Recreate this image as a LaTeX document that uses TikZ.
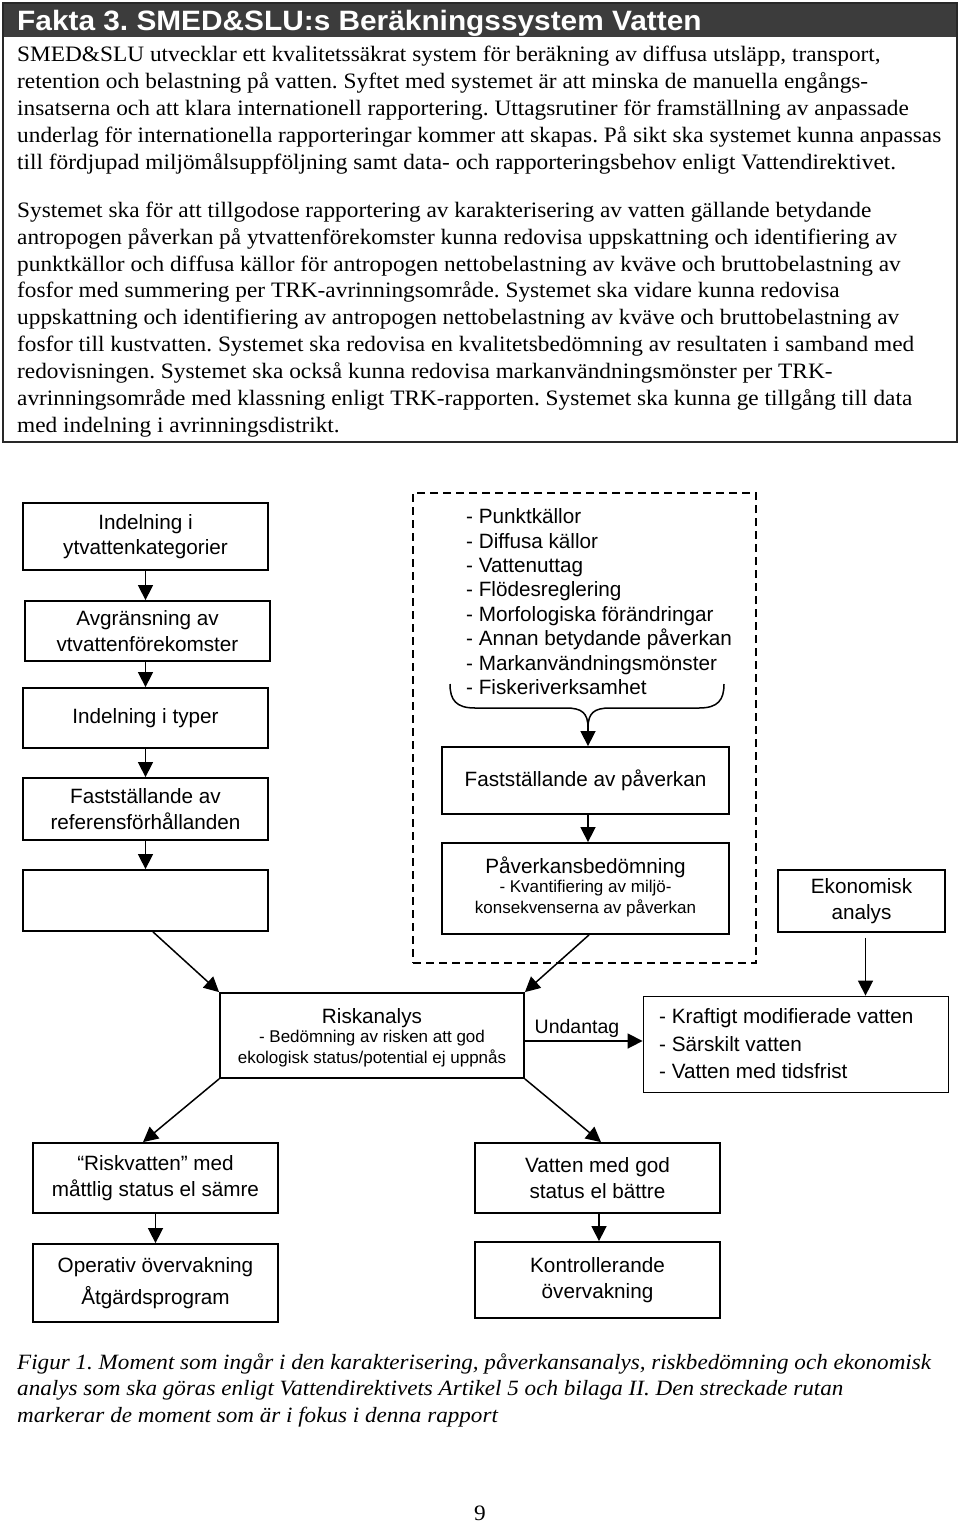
\documentclass[tikz,border=0pt]{standalone}
\usepackage{fontspec}
\setmainfont{Liberation Serif}[FakeStretch=1.06]
\newfontfamily\arialf{Liberation Sans}
\newfontfamily\titlef{Liberation Sans}[FakeStretch=1.065]
\usetikzlibrary{arrows.meta,calc}
\definecolor{barcol}{RGB}{60,60,60}
\definecolor{framecol}{RGB}{40,40,40}
\begin{document}
\frenchspacing
\begin{tikzpicture}[x=1pt,y=-1pt,
  box/.style={draw, line width=1.8pt, inner sep=2pt, align=center, font=\arialf\fontsize{20.7}{25.5}\selectfont},
  big/.style={inner sep=0pt, font=\arialf\fontsize{20.7}{24}\selectfont},
  small/.style={inner sep=0pt, align=center, font=\arialf\fontsize{17}{21.5}\selectfont},
  arr/.style={line width=1.5pt, -{Triangle[width=15pt,length=15pt]}},
  conn/.style={line width=1.5pt},
  bodytext/.style={anchor=north west, inner sep=0pt, align=left},
  ]
\useasboundingbox (0,0) rectangle (960,1525);

% ---- Fact box ----
\fill[barcol] (3,3) rectangle (957,37);
\draw[line width=2pt, framecol] (3,3) rectangle (957,442);
\node[anchor=base west, inner sep=0pt, text=white, font=\titlef\bfseries\fontsize{28}{30}\selectfont] (title) at (17,31) {Fakta 3. SMED\&SLU:s Beräkningssystem Vatten};

\node[bodytext, font=\fontsize{22}{27}\selectfont] (p1) at (17,39) {\rule{0pt}{22pt}SMED\&SLU utvecklar ett kvalitetssäkrat system för beräkning av diffusa utsläpp, transport,\\
retention och belastning på vatten. Syftet med systemet är att minska de manuella engångs-\\
insatserna och att klara internationell rapportering. Uttagsrutiner för framställning av anpassade\\
underlag för internationella rapporteringar kommer att skapas. På sikt ska systemet kunna anpassas\\
till fördjupad miljömålsuppföljning samt data- och rapporteringsbehov enligt Vattendirektivet.};

\node[bodytext, font=\fontsize{22}{26.9}\selectfont] (p2) at (17,195) {\rule{0pt}{22pt}Systemet ska för att tillgodose rapportering av karakterisering av vatten gällande betydande\\
antropogen påverkan på ytvattenförekomster kunna redovisa uppskattning och identifiering av\\
punktkällor och diffusa källor för antropogen nettobelastning av kväve och bruttobelastning av\\
fosfor med summering per TRK-avrinningsområde. Systemet ska vidare kunna redovisa\\
uppskattning och identifiering av antropogen nettobelastning av kväve och bruttobelastning av\\
fosfor till kustvatten. Systemet ska redovisa en kvalitetsbedömning av resultaten i samband med\\
redovisningen. Systemet ska också kunna redovisa markanvändningsmönster per TRK-\\
avrinningsområde med klassning enligt TRK-rapporten. Systemet ska kunna ge tillgång till data\\
med indelning i avrinningsdistrikt.};

% ---- Left column ----
\node[box, minimum width=245pt, minimum height=67pt] (b1) at (145.5,536.5) {Indelning i\\ytvattenkategorier};
\node[box, minimum width=245pt, minimum height=60pt] (b2) at (147.5,631) {Avgränsning av\\vtvattenförekomster};
\node[box, minimum width=245pt, minimum height=60pt] (b3) at (145.5,718) {Indelning i typer};
\node[box, minimum width=245pt, minimum height=62pt] (b4) at (145.5,809) {Fastställande av\\referensförhållanden};
\node[box, minimum width=245pt, minimum height=61pt] (b5) at (145.5,900.5) {};

\draw[arr] (b1.south) -- (b1.south |- b2.north);
\draw[arr] (b2.south -| b3.north) -- (b3.north);
\draw[arr] (b3.south) -- (b4.north);
\draw[arr] (b4.south) -- (b5.north);

% ---- Dashed focus box ----
\node[draw, line width=1.5pt, dash pattern=on 8pt off 5pt, minimum width=343pt, minimum height=470pt, inner sep=0pt] (dbox) at (584.5,728) {};

\node[bodytext, font=\arialf\fontsize{20.7}{24.43}\selectfont] (blist) at (466,503.5) {\rule{0pt}{20pt}- Punktkällor\\- Diffusa källor\\- Vattenuttag\\- Flödesreglering\\- Morfologiska förändringar\\- Annan betydande påverkan\\- Markanvändningsmönster\\- Fiskeriverksamhet};

\coordinate (bl) at (450,684);
\coordinate (br) at (724,684);
\coordinate (bm) at (588,728);
\draw[conn] (bl) .. controls (450,700) and (456,708) .. (475,708) -- (566,708) .. controls (582,708) and (588,713) .. (bm);
\draw[conn] (br) .. controls (724,700) and (718,708) .. (699,708) -- (610,708) .. controls (594,708) and (588,713) .. (bm);

\node[box, minimum width=287pt, minimum height=67pt] (fst) at (585.5,780.5) {Fastställande av påverkan};
\draw[arr] (bm) -- (bm |- fst.north);

\node[box, minimum width=287pt, minimum height=91pt] (pav) at (585.5,888.5) {};
\node[big, anchor=base] (pavt) at (585.5,873) {Påverkansbedömning};
\node[small, anchor=north] (pavs) at (585.5,875) {\rule{0pt}{17pt}- Kvantifiering av miljö-\\konsekvenserna av påverkan};
\draw[arr] ([xshift=2.5pt]fst.south) -- ([xshift=2.5pt]fst.south |- pav.north);

% ---- Economic analysis ----
\node[box, minimum width=167pt, minimum height=62pt] (eko) at (861.5,901) {Ekonomisk\\analys};

% ---- Risk analysis ----
\node[box, minimum width=304pt, minimum height=85pt] (risk) at (372,1035.5) {};
\node[big, anchor=base] (riskt) at (372,1023.5) {Riskanalys};
\node[small, anchor=north] (risks) at (372,1025) {\rule{0pt}{17pt}- Bedömning av risken att god\\ekologisk status/potential ej uppnås};

\node[box, minimum width=305pt, minimum height=96pt] (und) at (796,1044.5) {};
\node[bodytext, font=\arialf\fontsize{20.7}{27.5}\selectfont] (undt) at (659,1003.5) {\rule{0pt}{20pt}- Kraftigt modifierade vatten\\- Särskilt vatten\\- Vatten med tidsfrist};

\draw[arr] ([xshift=7.5pt]b5.south) -- (risk.north west);
\draw[arr] ([xshift=3.5pt]pav.south) -- (risk.north east);
\draw[arr] ([yshift=-5.5pt]risk.east) -- ([yshift=-5.5pt]risk.east -| und.west);
\node[anchor=base, inner sep=0pt, font=\arialf\fontsize{19.5}{22}\selectfont] (lbl) at (577,1033) {Undantag};
\draw[arr] ([xshift=4pt,yshift=-5pt]eko.south) -- ([xshift=4pt]eko.south |- und.north);

% ---- Outcomes ----
\node[box, minimum width=245pt, minimum height=70pt] (rv) at (155.5,1178) {“Riskvatten” med\\måttlig status el sämre};
\node[box, minimum width=245pt, minimum height=78pt] (op) at (155.5,1283) {Operativ övervakning\\[6pt]Åtgärdsprogram};
\node[box, minimum width=245pt, minimum height=70pt] (god) at (597.5,1178) {Vatten med god\\status el bättre};
\node[box, minimum width=245pt, minimum height=76pt] (kon) at (597.5,1280) {Kontrollerande\\övervakning};

\draw[arr] (risk.south west) -- ([xshift=-12.5pt]rv.north);
\draw[arr] (risk.south east) -- ([xshift=3.5pt]god.north);
\draw[arr] (rv.south) -- (op.north);
\draw[arr] ([xshift=1.5pt]god.south) -- ([xshift=1.5pt]kon.north);

% ---- Caption ----
\node[bodytext, font=\itshape\fontsize{21.8}{26.5}\selectfont] (cap) at (17,1347) {\rule{0pt}{22pt}Figur 1. Moment som ingår i den karakterisering, påverkansanalys, riskbedömning och ekonomisk\\
analys som ska göras enligt Vattendirektivets Artikel 5 och bilaga II. Den streckade rutan\\
markerar de moment som är i fokus i denna rapport};

\node[anchor=base, inner sep=0pt, font=\fontsize{22}{26}\selectfont] (pnum) at (480,1520) {9};
\end{tikzpicture}
\end{document}
